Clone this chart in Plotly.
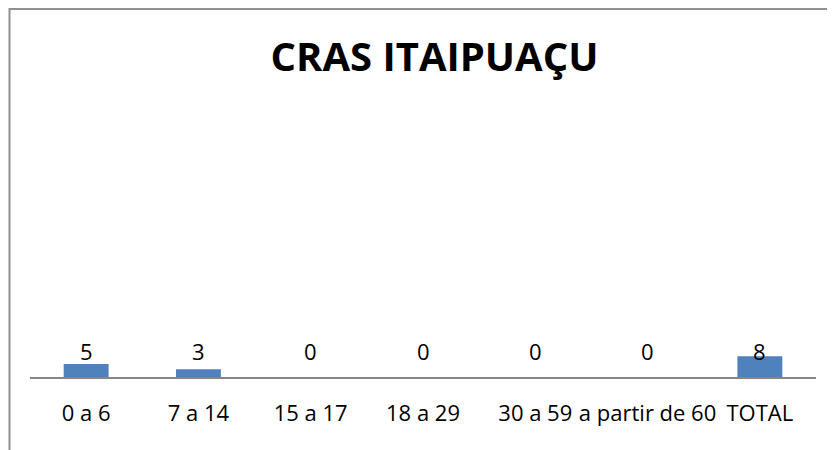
import plotly.graph_objects as go

categories = ["0 a 6", "7 a 14", "15 a 17", "18 a 29", "30 a 59", "a partir de 60", "TOTAL"]
values = [5, 3, 0, 0, 0, 0, 8]
title_text = "CRAS ITAIPUAÇU"

# page body has an 8px default margin, so the figure is a bit smaller
W, H = 827, 442
L, R, T, B = 22, 19, 109, 73
plot_w = W - L - R
plot_h = H - T - B
y_max = 100
label_y = 10

fig = go.Figure()
fig.add_trace(go.Bar(
    x=categories, y=values,
    marker=dict(color="#4F81BD", line=dict(width=0)),
    hoverinfo="x+y",
))

for c, v in zip(categories, values):
    fig.add_annotation(x=c, y=label_y, text=str(v), showarrow=False,
                       xref="x", yref="y", yanchor="middle",
                       font=dict(family="Open Sans", size=22, color="#000000"))

def px_to_paper_x(px):
    return (px - L) / plot_w

def px_to_paper_y(py):
    return (H - B - py) / plot_h

border_color = "#909090"
x_left = px_to_paper_x(1.5)
x_right = px_to_paper_x(W + 2)
y_top = px_to_paper_y(1)
y_bot = px_to_paper_y(H + 2)
fig.add_shape(type="path", xref="paper", yref="paper",
              path=f"M {x_left} {y_bot} L {x_left} {y_top} L {x_right} {y_top}",
              line=dict(color=border_color, width=2))

fig.update_layout(
    width=W, height=H,
    margin=dict(l=L, r=R, t=T, b=B, pad=0),
    paper_bgcolor="white", plot_bgcolor="white",
    bargap=0.6,
    showlegend=False,
    font=dict(family="Open Sans", size=22, color="#000000"),
    title=dict(text=f"<b>{title_text}</b>", x=426.5 / W, xanchor="center",
               y=1 - 49 / H, yanchor="middle", yref="container",
               font=dict(family="Open Sans", size=40, color="#000000")),
    xaxis=dict(showline=True, linecolor="#868686", linewidth=2,
               ticks="", tickangle=0, showgrid=False, zeroline=False,
               ticklabelstandoff=16,
               tickfont=dict(family="Open Sans", size=22, color="#000000")),
    yaxis=dict(range=[0, y_max], visible=False, showgrid=False, zeroline=False),
)

fig.write_html("out.html")
